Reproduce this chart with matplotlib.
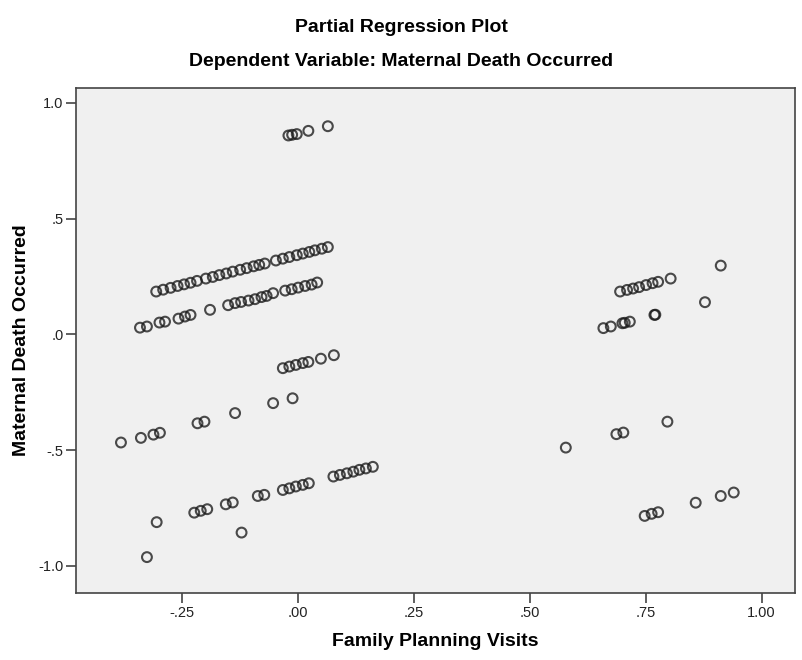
import matplotlib.pyplot as plt

# partial regression residuals
# upper band near x=0
x_top = [-0.020, -0.012, -0.002, 0.023, 0.065]
y_top = [0.859, 0.862, 0.865, 0.879, 0.899]

# long band (left cluster)
x_band1 = [-0.305, -0.290, -0.274, -0.259, -0.245, -0.231, -0.217, -0.198, -0.183,
           -0.169, -0.154, -0.140, -0.124, -0.110, -0.095, -0.083, -0.071, -0.047,
           -0.032, -0.018, -0.002, 0.011, 0.025, 0.037, 0.052, 0.065]
y_band1 = [0.185, 0.193, 0.201, 0.209, 0.216, 0.223, 0.231, 0.241, 0.248,
           0.256, 0.263, 0.271, 0.279, 0.286, 0.294, 0.300, 0.306, 0.319,
           0.327, 0.334, 0.342, 0.349, 0.356, 0.363, 0.370, 0.377]

x_band2 = [-0.340, -0.325, -0.298, -0.286, -0.257, -0.243, -0.231, -0.189, -0.150,
           -0.135, -0.122, -0.106, -0.092, -0.078, -0.067, -0.053, -0.027, -0.013,
           0.001, 0.016, 0.030, 0.042]
y_band2 = [0.029, 0.034, 0.051, 0.055, 0.068, 0.077, 0.084, 0.106, 0.126,
           0.135, 0.140, 0.146, 0.152, 0.161, 0.166, 0.178, 0.189, 0.195,
           0.202, 0.209, 0.215, 0.224]

x_band3 = [-0.032, -0.018, -0.004, 0.011, 0.023, 0.050, 0.078]
y_band3 = [-0.146, -0.139, -0.132, -0.124, -0.119, -0.105, -0.090]

x_band4 = [-0.381, -0.338, -0.311, -0.297, -0.216, -0.201, -0.135, -0.053, -0.011]
y_band4 = [-0.467, -0.447, -0.433, -0.425, -0.384, -0.377, -0.340, -0.297, -0.276]

x_band5 = [-0.304, -0.325, -0.121, -0.223, -0.209, -0.195, -0.155, -0.140, -0.086,
           -0.072, -0.032, -0.018, -0.004, 0.011, 0.024, 0.077, 0.091, 0.106,
           0.120, 0.133, 0.147, 0.162]
y_band5 = [-0.811, -0.962, -0.856, -0.770, -0.762, -0.755, -0.734, -0.726, -0.698,
           -0.693, -0.672, -0.665, -0.657, -0.650, -0.643, -0.614, -0.607, -0.600,
           -0.593, -0.585, -0.579, -0.572]

# right cluster
x_right = [0.695, 0.710, 0.723, 0.736, 0.751, 0.765, 0.777, 0.804, 0.912, 0.878,
           0.659, 0.675, 0.700, 0.705, 0.716, 0.769, 0.771,
           0.578, 0.687, 0.702, 0.797,
           0.748, 0.763, 0.777, 0.858, 0.912, 0.940]
y_right = [0.185, 0.192, 0.198, 0.204, 0.213, 0.221, 0.227, 0.241, 0.297, 0.139,
           0.027, 0.034, 0.048, 0.050, 0.055, 0.084, 0.085,
           -0.489, -0.431, -0.424, -0.377,
           -0.784, -0.775, -0.768, -0.727, -0.698, -0.683]

xs = x_top + x_band1 + x_band2 + x_band3 + x_band4 + x_band5 + x_right
ys = y_top + y_band1 + y_band2 + y_band3 + y_band4 + y_band5 + y_right

x_ticks = [-0.25, 0.0, 0.25, 0.5, 0.75, 1.0]
x_labels = ['-.25', '.00', '.25', '.50', '.75', '1.00']
y_ticks = [1.0, 0.5, 0.0, -0.5, -1.0]
y_labels = ['1.0', '.5', '.0', '-.5', '-1.0']

plt.rcParams['font.family'] = ['Liberation Sans', 'DejaVu Sans']

fig = plt.figure(figsize=(8.03, 6.60), dpi=100)
ax = fig.add_axes([0.0946, 0.1015, 0.8954, 0.7655])
ax.set_facecolor('#f0f0f0')

ax.scatter(xs, ys, s=50, facecolors='none', edgecolors='#1a1a1a',
           linewidths=1.5, alpha=0.78)

ax.set_xlim(-0.478, 1.072)
ax.set_ylim(-1.117, 1.065)
ax.set_xticks(x_ticks)
ax.set_xticklabels(x_labels)
ax.set_yticks(y_ticks)
ax.set_yticklabels(y_labels)
ax.tick_params(direction='out', length=7, width=1.2, color='#444444',
               labelsize=10.5, labelcolor='#222222', pad=2)

for sp in ax.spines.values():
    sp.set_color('#444444')
    sp.set_linewidth(1.2)

ax.set_xlabel('Family Planning Visits', fontsize=14, fontweight='bold', labelpad=10)
ax.set_ylabel('Maternal Death Occurred', fontsize=14, fontweight='bold', labelpad=6)

fig.text(0.5, 1 - 28 / 660, 'Partial Regression Plot', ha='center', va='center',
         fontsize=14, fontweight='bold')
fig.text(0.5, 1 - 61 / 660, 'Dependent Variable: Maternal Death Occurred',
         ha='center', va='center', fontsize=14, fontweight='bold')

fig.savefig('out.png', dpi=100)
